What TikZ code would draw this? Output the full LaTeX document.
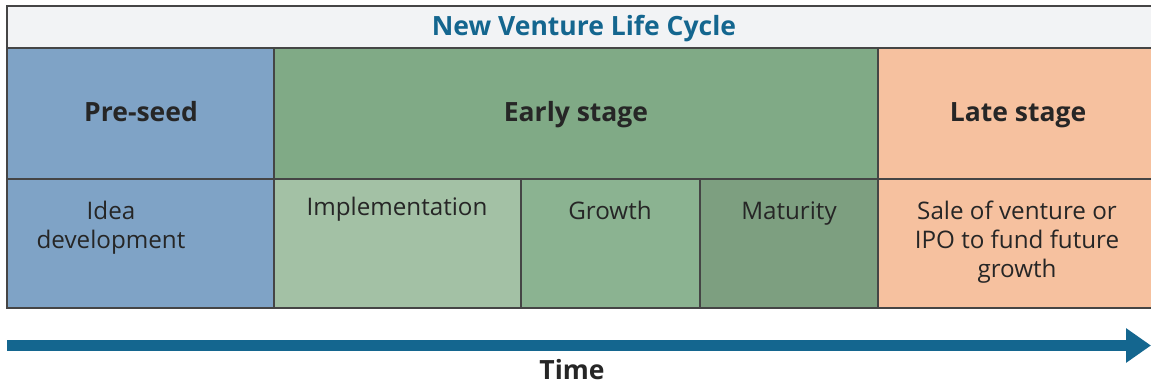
\documentclass[tikz,border=0pt]{standalone}
\usepackage{fontspec}
\setmainfont{Open Sans}
\usetikzlibrary{arrows.meta}
\definecolor{titlebg}{HTML}{F2F3F5}
\definecolor{titleblue}{HTML}{14668F}
\definecolor{preseed}{HTML}{7FA3C6}
\definecolor{early}{HTML}{80AA86}
\definecolor{impl}{HTML}{A3C1A5}
\definecolor{grow}{HTML}{8BB391}
\definecolor{matur}{HTML}{7D9F80}
\definecolor{late}{HTML}{F6C19F}
\definecolor{edge}{HTML}{454545}
\definecolor{txt}{HTML}{262626}
\tikzset{
  cell/.style={draw=edge, line width=1.4pt},
  head/.style={font=\fontsize{26.5}{30}\selectfont\bfseries, text=txt, inner sep=0pt, anchor=base},
  body/.style={font=\fontsize{24.2}{29}\selectfont, text=txt, align=center, inner sep=0pt},
}
\begin{document}
\begin{tikzpicture}[x=1pt,y=-1pt]
\useasboundingbox (0,0) rectangle (1151,385);
\begin{scope}
\clip (0,0) rectangle (1151,385);
\draw[cell, fill=titlebg] (7,6) rectangle (1160,48);
\draw[cell, fill=preseed] (7,48) rectangle (274,308);
\draw[cell, fill=early] (274,48) rectangle (878,179);
\draw[cell, fill=impl] (274,179) rectangle (521,308);
\draw[cell, fill=grow] (521,179) rectangle (700,308);
\draw[cell, fill=matur] (700,179) rectangle (878,308);
\draw[cell, fill=late] (878,48) rectangle (1160,308);
\draw[cell] (7,179) -- (274,179);
\draw[cell] (878,179) -- (1160,179);
\end{scope}
\node[head, text=titleblue] (title) at (584,35.5) {New Venture Life Cycle};
\node[head] (pre) at (141,122) {Pre-seed};
\node[head] (ear) at (576,122) {Early stage};
\node[head] (lat) at (1018,122) {Late stage};
\node[body] (idea) at (111,227.5) {Idea\\development};
\node[body, anchor=base] (imp) at (397,215.5) {Implementation};
\node[body, anchor=base] (gro) at (610,219.5) {Growth};
\node[body, anchor=base] (mat) at (789,219.5) {Maturity};
\node[body] (sale) at (1017,242) {Sale of venture or\\IPO to fund future\\growth};
\coordinate (a0) at (7,345.5);
\coordinate (a1) at (1151,345.5);
\draw[titleblue, line width=11pt, -{Triangle[length=25pt,width=33pt]}] (a0) -- (a1);
\node[head] (time) at (572,379.5) {Time};
\end{tikzpicture}
\end{document}
